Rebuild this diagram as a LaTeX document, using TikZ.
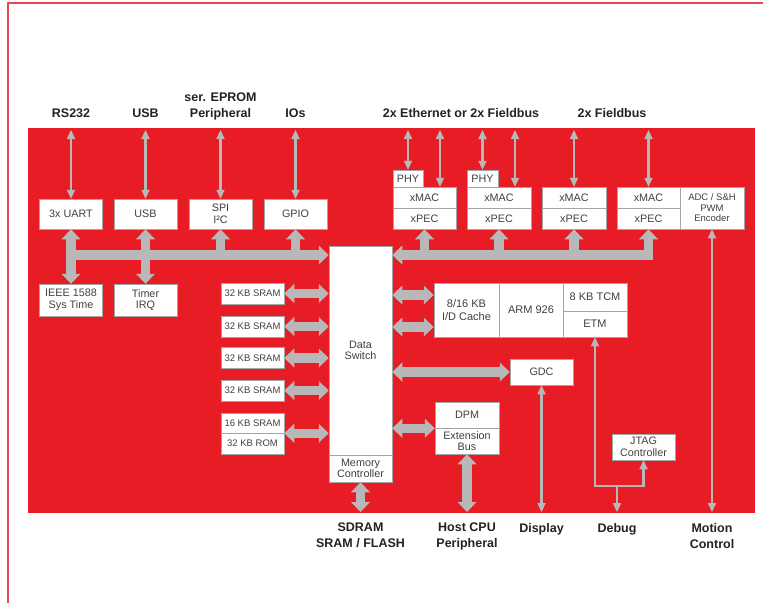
\documentclass[tikz,border=0pt]{standalone}
\usepackage{fontspec}
\setmainfont{Liberation Sans}
\usetikzlibrary{arrows.meta}

\definecolor{chipred}{RGB}{232,28,36}
\definecolor{framered}{RGB}{238,70,78}
\definecolor{busgray}{RGB}{184,184,184}
\definecolor{boxtext}{RGB}{64,64,64}
\definecolor{lbltext}{RGB}{34,34,34}
\definecolor{boxline}{RGB}{165,165,165}

\tikzset{
  FatHead/.tip={Triangle[length=10pt,width=19pt,line width=0pt]},
  SlimHead/.tip={Triangle[length=9pt,width=8.5pt,line width=0pt]}
}

\begin{document}
\begin{tikzpicture}[
  x=1pt, y=-1pt,
  every node/.style={inner sep=0pt, align=center},
  blk/.style={draw=boxline, line width=0.5pt, fill=white, text=boxtext,
    font=\fontsize{10.8}{11.5}\selectfont, minimum width=63pt, minimum height=21pt},
  smalltext/.style={font=\fontsize{9.5}{10.5}\selectfont},
  cputext/.style={font=\fontsize{11}{12.5}\selectfont},
  lbl/.style={font=\fontsize{12.5}{16}\selectfont\bfseries, text=lbltext},
  fat/.style={draw=busgray, line width=9.5pt},
  slim/.style={draw=busgray, line width=2.5pt}
]
  \useasboundingbox (0,0) rectangle (763,603);
  \draw[framered, line width=1.5pt] (763,3) -- (8,3) -- (8,603);
  \fill[chipred] (28,128) rectangle (755,513);

  \coordinate (topedge) at (0,130);
  \coordinate (botedge) at (0,512);
  \coordinate (busy) at (0,255);

  \node[lbl, anchor=base] (lrs) at (71,117) {RS232};
  \node[lbl, anchor=base] (lusb) at (145.5,117) {USB};
  \node[lbl, anchor=south] (leprom) at (220.5,120) {ser. EPROM\\Peripheral};
  \node[lbl, anchor=base] (lio) at (295.5,117) {IOs};
  \node[lbl, anchor=base] (leth) at (461,117) {2x Ethernet or 2x Fieldbus};
  \node[lbl, anchor=base] (lfield) at (612,117) {2x Fieldbus};

  \node[blk, minimum height=30pt] (uart) at (71,214) {3x UART};
  \node[blk, minimum height=30pt] (usb) at (145.5,214) {USB};
  \node[blk, minimum height=30pt] (spi) at (220.5,214) {SPI\\I²C};
  \node[blk, minimum height=30pt] (gpio) at (295.5,214) {GPIO};
  \node[blk, minimum height=32pt] (ieee) at (71,300) {IEEE 1588\\Sys Time};
  \node[blk, minimum height=32pt] (timer) at (145.5,300) {Timer\\IRQ};

  \node[blk, smalltext] (sramA) at (252.5,293.5) {32 KB SRAM};
  \node[blk, smalltext] (sramB) at (252.5,326.5) {32 KB SRAM};
  \node[blk, smalltext] (sramC) at (252.5,358) {32 KB SRAM};
  \node[blk, smalltext] (sramD) at (252.5,390.5) {32 KB SRAM};
  \node[blk, smalltext, minimum height=20pt] (sramE) at (252.5,423) {16 KB SRAM};
  \node[blk, smalltext] (rom) at (252.5,443.5) {32 KB ROM};

  \node[blk, minimum height=209pt] (ds) at (360.5,350.5) {Data\\Switch};
  \node[blk, minimum height=27pt] (mc) at (360.5,468.5) {Memory\\Controller};

  \node[blk, minimum width=30pt, minimum height=17pt] (phyA) at (408,178.5) {PHY};
  \node[blk] (xmacA) at (424.5,197.5) {xMAC};
  \node[blk] (xpecA) at (424.5,218.5) {xPEC};
  \node[blk, minimum width=31pt, minimum height=17pt] (phyB) at (482.5,178.5) {PHY};
  \node[blk, minimum width=64pt] (xmacB) at (499,197.5) {xMAC};
  \node[blk, minimum width=64pt] (xpecB) at (499,218.5) {xPEC};
  \node[blk, minimum width=64pt] (xmacC) at (574,197.5) {xMAC};
  \node[blk, minimum width=64pt] (xpecC) at (574,218.5) {xPEC};
  \node[blk] (xmacD) at (648.5,197.5) {xMAC};
  \node[blk] (xpecD) at (648.5,218.5) {xPEC};
  \node[blk, smalltext, minimum width=64pt, minimum height=42pt] (adc) at (712,208)
    {ADC / S\&H\\PWM\\Encoder};

  \node[blk, cputext, minimum width=65pt, minimum height=54pt] (cache) at (466.5,310)
    {8/16 KB\\I/D Cache};
  \node[blk, cputext, minimum width=64pt, minimum height=54pt] (arm) at (531,310) {ARM 926};
  \node[blk, cputext, minimum width=64pt, minimum height=28pt] (tcm) at (595,297) {8 KB TCM};
  \node[blk, cputext, minimum width=64pt, minimum height=26pt] (etm) at (595,324) {ETM};
  \node[blk, minimum height=26pt] (gdc) at (541.5,372) {GDC};
  \node[blk, minimum width=64pt, minimum height=26pt] (dpm) at (467,415) {DPM};
  \node[blk, minimum width=64pt, minimum height=26pt] (ext) at (467,441) {Extension\\Bus};
  \node[blk, minimum height=26pt] (jtag) at (643.5,447) {JTAG\\Controller};

  \node[lbl, anchor=north] (lsdram) at (360.5,523) {SDRAM\\SRAM / FLASH};
  \node[lbl, anchor=north] (lhost) at (467,523) {Host CPU\\Peripheral};
  \node[lbl, anchor=north] (ldisp) at (541.5,523) {Display};
  \node[lbl, anchor=north] (ldebug) at (617,523) {Debug};
  \node[lbl, anchor=north] (lmotion) at (712,523) {Motion\\Control};

  \coordinate (xmacAr) at ([xshift=15.5pt]xmacA.north);
  \coordinate (xmacBr) at ([xshift=16pt]xmacB.north);
  \draw[slim, SlimHead-SlimHead] (uart.north) -- (uart.north |- topedge);
  \draw[slim, SlimHead-SlimHead] (usb.north) -- (usb.north |- topedge);
  \draw[slim, SlimHead-SlimHead] (spi.north) -- (spi.north |- topedge);
  \draw[slim, SlimHead-SlimHead] (gpio.north) -- (gpio.north |- topedge);
  \draw[slim, SlimHead-SlimHead] (phyA.north) -- (phyA.north |- topedge);
  \draw[slim, SlimHead-SlimHead] (xmacAr) -- (xmacAr |- topedge);
  \draw[slim, SlimHead-SlimHead] (phyB.north) -- (phyB.north |- topedge);
  \draw[slim, SlimHead-SlimHead] (xmacBr) -- (xmacBr |- topedge);
  \draw[slim, SlimHead-SlimHead] (xmacC.north) -- (xmacC.north |- topedge);
  \draw[slim, SlimHead-SlimHead] (xmacD.north) -- (xmacD.north |- topedge);

  \draw[fat, FatHead-FatHead] (uart.south) -- (ieee.north);
  \draw[fat, FatHead-FatHead] (usb.south) -- (timer.north);
  \draw[fat, -FatHead] (uart.south |- busy) -- (ds.west |- busy);
  \draw[fat, -FatHead] (spi.south |- busy) -- (spi.south);
  \draw[fat, -FatHead] (gpio.south |- busy) -- (gpio.south);

  \draw[fat, FatHead-, shorten >=-4.75pt] (ds.east |- busy) -- (xpecD.south |- busy);
  \draw[fat, -FatHead] (xpecA.south |- busy) -- (xpecA.south);
  \draw[fat, -FatHead] (xpecB.south |- busy) -- (xpecB.south);
  \draw[fat, -FatHead] (xpecC.south |- busy) -- (xpecC.south);
  \draw[fat, -FatHead] (xpecD.south |- busy) -- (xpecD.south);

  \draw[fat, FatHead-FatHead] (sramA.east) -- (sramA.east -| ds.west);
  \draw[fat, FatHead-FatHead] (sramB.east) -- (sramB.east -| ds.west);
  \draw[fat, FatHead-FatHead] (sramC.east) -- (sramC.east -| ds.west);
  \draw[fat, FatHead-FatHead] (sramD.east) -- (sramD.east -| ds.west);
  \draw[fat, FatHead-FatHead] (sramE.south east) -- (sramE.south east -| ds.west);

  \coordinate (cacheU) at ([yshift=15pt]cache.west);
  \coordinate (cacheL) at ([yshift=-17pt]cache.west);
  \draw[fat, FatHead-FatHead] (cacheU -| ds.east) -- (cacheU);
  \draw[fat, FatHead-FatHead] (cacheL -| ds.east) -- (cacheL);
  \draw[fat, FatHead-FatHead] (gdc.west -| ds.east) -- (gdc.west);
  \draw[fat, FatHead-FatHead] (dpm.south west -| ds.east) -- (dpm.south west);
  \draw[fat, FatHead-FatHead] (mc.south) -- (mc.south |- botedge);
  \draw[fat, FatHead-FatHead] (ext.south) -- (ext.south |- botedge);

  \coordinate (dbg) at (617,486);
  \draw[slim, SlimHead-SlimHead] (gdc.south) -- (gdc.south |- botedge);
  \draw[slim, SlimHead-SlimHead] (adc.south) -- (adc.south |- botedge);
  \draw[slim, SlimHead-SlimHead] (etm.south) |- (dbg) -| (jtag.south);
  \draw[slim, -SlimHead] (dbg) -- (dbg |- botedge);
\end{tikzpicture}
\end{document}
